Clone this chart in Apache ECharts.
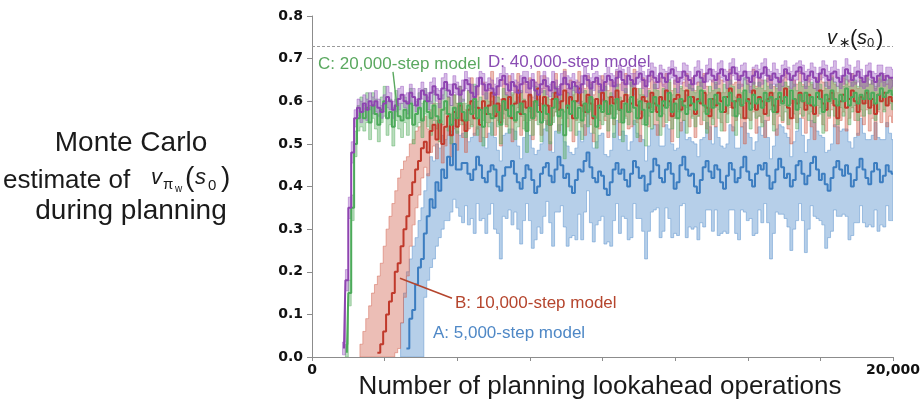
<!DOCTYPE html>
<html><head><meta charset="utf-8">
<script src="https://cdn.jsdelivr.net/npm/echarts@6/dist/echarts.min.js"></script>
<style>html,body{margin:0;padding:0;background:#fff}#c{width:924px;height:406px}</style>
</head><body><div id="c"></div>
<script>
// x spacing between successive estimates (planning lookahead operations)
const STEP = 100;
const X_MAX = 20000;
const X_TICK_LABELS = {0: '0', 20000: '20,000'};
const V_STAR = 0.726;

// values are in thousandths of the value estimate
// A: 5,000-step model
const startA = 3100;
const meanA = [0,0,20,90,110,170,210,230,290,330,
370,350,410,390,440,420,470,450,500,440,
440,455,455,430,415,440,470,450,420,410,
435,450,440,400,390,425,445,445,460,430,
410,395,420,450,440,415,385,400,430,445,
455,425,410,440,470,450,420,430,400,385,
415,440,435,460,480,445,420,410,435,425,
395,380,410,440,455,430,440,415,400,430,
460,445,420,425,390,405,435,465,450,420,
410,440,455,430,395,410,450,470,440,425,
430,400,385,415,445,460,435,420,450,440,
410,395,425,455,440,410,420,445,470,435,
415,400,430,450,440,455,425,395,410,440,
465,445,420,430,400,415,450,460,430,405,
425,455,470,440,415,430,405,390,420,445,
460,440,425,450,430,400,415,445,465,440,
420,405,435,455,440,410,425,450,435,430];
const upA = [80,150,180,140,150,110,110,120,100,100,
100,110,90,100,80,90,70,80,60,90,
80,70,90,75,100,85,70,90,95,80,
90,100,75,85,70,95,80,90,75,100,
85,70,95,100,80,75,90,85,70,90,
100,80,70,90,75,95,85,65,80,90,
75,90,70,85,100,80,70,95,85,100,
80,90,75,85,100,80,90,105,85,75,
95,80,100,85,70,90,100,80,95,75,
85,105,80,70,90,80,100,85,70,90,
75,100,85,95,70,90,105,80,90,75,
85,95,75,90,100,80,70,95,80,90,
100,85,75,90,80,100,90,70,85,95,
80,95,105,85,70,90,80,100,90,75,
85,100,80,90,105,85,75,95,80,100,
80,90,110,85,75,90,100,80,95,85,
90,105,85,95,75,100,85,100,90,80];
const downA = [50,50,60,100,110,170,210,230,150,150,
160,120,150,110,140,100,150,110,130,90,
110,140,100,120,90,150,110,130,95,120,
100,90,140,110,160,95,120,100,150,90,
110,130,100,90,120,160,110,95,140,115,
90,110,150,100,130,95,115,170,120,100,
140,105,160,120,90,130,150,100,115,95,
130,110,150,120,95,140,110,90,125,150,
100,120,95,130,160,110,95,120,100,140,
115,90,130,150,105,125,95,110,160,120,
130,95,110,100,140,115,90,125,105,155,
120,100,135,110,95,120,145,100,130,115,
90,115,140,105,125,95,110,165,120,100,
130,110,95,125,150,115,130,100,110,160,
125,100,140,115,95,120,150,110,125,100,
130,110,90,120,155,115,100,130,110,125,
115,95,130,110,145,100,120,95,115,110];

// B: 10,000-step model
const startB = 1700;
const meanB = [0,0,0,0,0,0,10,30,60,100,
130,150,200,220,260,300,330,380,410,440,
460,490,505,480,530,545,510,555,500,540,
565,520,575,540,590,555,530,580,600,560,
585,545,600,570,590,620,565,595,550,605,
580,610,560,595,625,570,600,585,615,560,
600,630,575,610,590,545,605,620,580,600,
625,585,610,560,600,630,590,575,615,595,
560,605,585,620,600,570,610,595,625,580,
600,615,575,595,630,590,560,610,600,585,
620,595,575,610,590,625,600,565,605,615,
580,600,625,590,610,570,605,595,620,585,
565,605,590,620,600,575,610,630,585,600,
615,590,560,605,595,625,580,610,600,570,
605,620,590,575,610,600,630,585,560,605,
595,620,600,580,615,590,570,610,625,595,
580,605,620,590,560,600,615,585,605,625,
600,575,610,595,620,585,605,570,615,600,
620,590,610,600];
const spreadB = [30,60,90,120,150,170,180,190,200,200,
200,210,190,200,180,160,140,120,100,90,
80,70,60,55,50,50,45,50,45,45,
45,50,40,55,45,40,50,45,55,40,
50,40,45,55,40,50,45,40,55,45,
40,50,55,45,40,50,45,55,40,50,
45,40,55,50,45,60,40,45,50,40,
50,45,40,55,45,40,50,55,45,50,
55,45,50,40,45,55,40,50,45,60,
45,50,40,55,45,40,55,45,50,45,
40,50,55,45,50,40,45,60,45,40,
50,45,40,50,45,55,40,50,45,50,
55,45,50,40,50,45,40,45,55,45,
45,50,60,45,40,50,55,45,50,55,
50,40,45,55,45,50,40,50,60,45,
45,50,40,55,45,50,60,45,40,50,
50,45,40,50,60,45,40,55,45,40,
45,55,45,50,40,55,45,60,40,50,
40,50,45,50];

// C: 20,000-step model
const startC = 1200;
const meanC = [10,150,350,500,560,575,560,585,550,590,
570,545,580,600,560,575,540,590,565,555,
580,560,595,545,570,585,555,600,575,560,
590,565,550,580,600,570,545,585,560,595,
575,555,590,570,605,560,580,540,585,570,
560,590,575,545,600,580,565,590,555,575,
595,570,530,585,560,600,575,550,590,570,
545,585,605,565,580,520,590,570,600,560,
585,555,595,575,610,565,540,590,575,600,
570,590,560,605,580,550,595,575,610,585,
560,600,580,545,595,575,610,590,565,600,
585,620,575,595,560,605,590,570,610,595,
580,600,625,590,570,605,585,615,595,575,
610,590,620,600,565,605,590,625,600,580,
615,595,605,585,620,600,610,575,605,620,
595,610,590,625,605,580,615,600,620,595,
610,590,620,605,575,615,600,625,605,590,
615,600,630,590,610,620,595,615,605,625,
605,620,595,615,630,610,620,625,615];
const spreadC = [20,30,30,30,30,35,30,35,40,30,
35,40,30,35,40,30,45,35,30,40,
30,40,35,45,30,35,40,30,35,40,
35,30,45,35,30,40,45,30,35,40,
30,40,35,30,35,40,30,45,35,30,
40,30,35,45,30,35,40,30,45,35,
30,35,50,30,40,35,30,45,35,40,
45,35,30,40,35,55,30,40,35,40,
35,45,30,35,30,40,50,35,30,35,
40,30,45,35,30,45,35,30,35,40,
45,30,35,50,30,40,30,35,45,30,
35,30,40,35,45,30,35,45,30,35,
40,35,30,35,45,30,40,30,35,45,
30,40,30,35,45,35,30,30,40,45,
30,35,40,45,30,35,30,45,35,30,
40,35,45,30,35,45,30,35,30,40,
35,40,30,35,50,30,35,30,40,45,
30,35,30,45,35,30,40,35,40,30,
35,30,40,35,30,35,30,30,35];

// D: 40,000-step model
const startD = 1100;
const meanD = [20,180,350,480,560,585,575,595,580,600,
590,600,585,575,595,610,600,580,590,605,
615,600,595,620,610,590,605,625,615,600,
620,635,615,605,630,645,625,615,640,630,
615,625,650,640,620,610,635,655,640,625,
640,630,615,635,650,660,640,625,645,635,
620,640,655,645,630,650,625,615,640,650,
635,625,645,630,615,640,655,640,630,645,
635,620,640,660,650,630,645,655,640,625,
645,660,650,635,655,670,650,640,660,650,
640,655,665,650,635,660,670,655,645,665,
655,645,665,675,660,645,655,670,660,650,
640,660,670,655,645,665,675,660,650,665,
675,660,650,665,680,665,650,660,670,655,
645,660,670,655,665,680,660,650,665,655,
645,660,675,665,650,660,670,680,665,650,
660,670,655,645,665,675,660,650,665,670,
655,645,660,675,665,650,660,670,655,645,
660,670,655,645,660,665,650,660,655,655];
const spreadD = [15,25,25,25,20,20,25,20,25,20,
20,25,20,15,20,25,20,20,15,25,
20,15,25,20,20,15,25,20,15,20,
25,20,15,20,25,20,15,25,20,15,
20,25,20,15,20,25,20,15,25,20,
15,20,25,20,15,20,25,20,20,15,
25,20,15,25,20,15,20,25,20,20,
20,15,25,20,20,25,15,20,25,20,
15,25,20,20,15,25,20,15,20,25,
20,20,15,25,20,15,25,20,20,15,
25,15,20,20,25,15,20,25,15,20,
20,25,15,20,20,25,15,20,25,20,
15,20,25,20,15,20,25,15,20,25,
20,15,20,25,20,15,20,25,20,15,
25,20,15,20,25,20,15,20,25,20,
20,25,20,15,20,25,20,15,20,20,
15,20,25,20,15,20,25,20,15,25,
20,15,20,25,20,15,20,25,20,15,
25,20,15,20,25,20,15,20,25,20];

// annotation pointers (data units)
const pointerB = [[3029, 0.185], [4819, 0.138]];
const pointerC = [[2788, 0.669], [2926, 0.587]];

function build(name, start, mean, down, up, st, extra) {
  const band = [], mid = [];
  for (let i = 0; i < mean.length; i++) {
    const x = start + i * STEP;
    if (x > X_MAX) break;
    const l = Math.max(0, mean[i] - down[i]) / 1000;
    const h = (mean[i] + up[i]) / 1000;
    band.push([x, l, h]);
    mid.push([x, mean[i] > 0 ? mean[i] / 1000 : null]);
  }
  const bandSeries = {
    type: 'custom', name: name + '_band', silent: true, animation: false,
    data: band, encode: {x: 0, y: [1, 2]},
    renderItem: function (params, api) {
      if (params.dataIndexInside !== 0) return null;
      const upper = [], lower = [];
      for (const p of band) {
        const x0 = Math.max(0, p[0] - STEP / 2), x1 = Math.min(X_MAX, p[0] + STEP / 2);
        upper.push(api.coord([x0, p[2]]), api.coord([x1, p[2]]));
        lower.push(api.coord([x0, p[1]]), api.coord([x1, p[1]]));
      }
      lower.reverse();
      const cs = params.coordSys;
      return {
        type: 'polygon',
        shape: {points: upper.concat(lower)},
        style: {fill: st.fill, stroke: st.edge, lineWidth: 0.8},
        clipPath: {type: 'rect', shape: {x: cs.x, y: cs.y, width: cs.width, height: cs.height}}
      };
    }
  };
  const meanSeries = {type: 'line', name: name, data: mid, step: 'middle', symbol: 'none', showSymbol: false,
    silent: true, animation: false, lineStyle: {width: 2, color: st.line}};
  if (extra) Object.assign(meanSeries, extra);
  return [bandSeries, meanSeries];
}

const styleA = {line: '#3c7dc0', fill: 'rgba(110,160,212,0.5)', edge: 'rgba(110,160,212,0.75)'};
const styleB = {line: '#c0392b', fill: 'rgba(210,100,80,0.42)', edge: 'rgba(210,100,80,0.6)'};
const styleC = {line: '#4caa5a', fill: 'rgba(90,175,100,0.42)', edge: 'rgba(90,175,100,0.6)'};
const styleD = {line: '#8e44b0', fill: 'rgba(150,80,190,0.38)', edge: 'rgba(150,80,190,0.55)'};

const series = [].concat(
  build('A', startA, meanA, downA, upA, styleA),
  build('B', startB, meanB, spreadB, spreadB, styleB, {markLine: {silent: true, symbol: ['none', 'none'], label: {show: false},
    lineStyle: {type: 'solid', color: '#b5452d', width: 1.6},
    data: [[{coord: pointerB[0]}, {coord: pointerB[1]}]]}}),
  build('C', startC, meanC, spreadC, spreadC, styleC, {markLine: {silent: true, symbol: ['none', 'none'], label: {show: false},
    lineStyle: {type: 'solid', color: '#5aa85f', width: 1.4},
    data: [[{coord: pointerC[0]}, {coord: pointerC[1]}]]}}),
  build('D', startD, meanD, spreadD, spreadD, styleD, {markLine: {silent: true, symbol: ['none', 'none'], label: {show: false},
    lineStyle: {type: [3, 2], color: '#9a9a9a', width: 1},
    data: [{yAxis: V_STAR}]}})
);

const LF = '"Liberation Sans", Arial, sans-serif';
function txt(x, y, text, font, fill, align) {
  return {type: 'text', x: x, y: y, silent: true, z: 100,
    style: {text: text, font: font, fill: fill || '#1a1a1a', align: align || 'left', textAlign: align || 'left',
      verticalAlign: 'middle', textVerticalAlign: 'middle'}};
}

const graphics = [
  txt(131, 143, 'Monte Carlo', '28px ' + LF, '#1a1a1a', 'center'),
  txt(3, 181, 'estimate of', '26px ' + LF),
  txt(151, 178, 'v', 'italic 22px ' + LF),
  txt(163, 185, 'π', '15px ' + LF),
  txt(175, 189, 'w', '10px ' + LF),
  txt(185, 178, '(', '28px ' + LF),
  txt(195, 178, 's', 'italic 22px ' + LF),
  txt(208, 186, '0', '15px ' + LF),
  txt(221, 178, ')', '28px ' + LF),
  txt(131, 211, 'during planning', '28px ' + LF, '#1a1a1a', 'center'),
  txt(600, 387, 'Number of planning lookahead operations', '26px ' + LF, '#1a1a1a', 'center'),
  txt(827, 38, 'v', 'italic 20px ' + LF),
  txt(839, 43, '∗', '14px "DejaVu Sans"'),
  txt(850, 39, '(', '22px ' + LF),
  txt(857, 38, 's', 'italic 20px ' + LF),
  txt(867, 43, '0', '13px ' + LF),
  txt(876, 39, ')', '22px ' + LF),
  txt(318, 64, 'C: 20,000-step model', '17px ' + LF, '#5aa85f'),
  txt(488, 62, 'D: 40,000-step model', '17px ' + LF, '#8a4db3'),
  txt(455, 303, 'B: 10,000-step model', '17px ' + LF, '#b5452d'),
  txt(433, 333, 'A: 5,000-step model', '17px ' + LF, '#4f88c6')
];

const chart = echarts.init(document.getElementById('c'), null, {renderer: 'canvas'});
chart.setOption({
  animation: false,
  backgroundColor: '#fff',
  grid: {left: 312, right: 31, top: 16, bottom: 49, containLabel: false},
  xAxis: {type: 'value', min: 0, max: X_MAX, interval: 2500,
    axisLine: {show: true, onZero: false, lineStyle: {color: '#8c8c8c', width: 1}},
    axisTick: {show: true, length: 4, lineStyle: {color: '#8c8c8c'}},
    splitLine: {show: false},
    axisLabel: {showMinLabel: true, showMaxLabel: true, margin: 6,
      formatter: v => (X_TICK_LABELS[v] !== undefined ? X_TICK_LABELS[v] : ''),
      color: '#111', fontFamily: 'DejaVu Sans', fontWeight: 'bold', fontSize: 14}},
  yAxis: {type: 'value', min: 0, max: 0.8, interval: 0.1,
    axisLine: {show: true, lineStyle: {color: '#8c8c8c', width: 1}},
    axisTick: {show: true, length: 5, lineStyle: {color: '#8c8c8c'}},
    splitLine: {show: false},
    axisLabel: {margin: 9, formatter: v => v.toFixed(1),
      color: '#111', fontFamily: 'DejaVu Sans', fontWeight: 'bold', fontSize: 14}},
  series: series,
  graphic: graphics
});
</script>
</body></html>
